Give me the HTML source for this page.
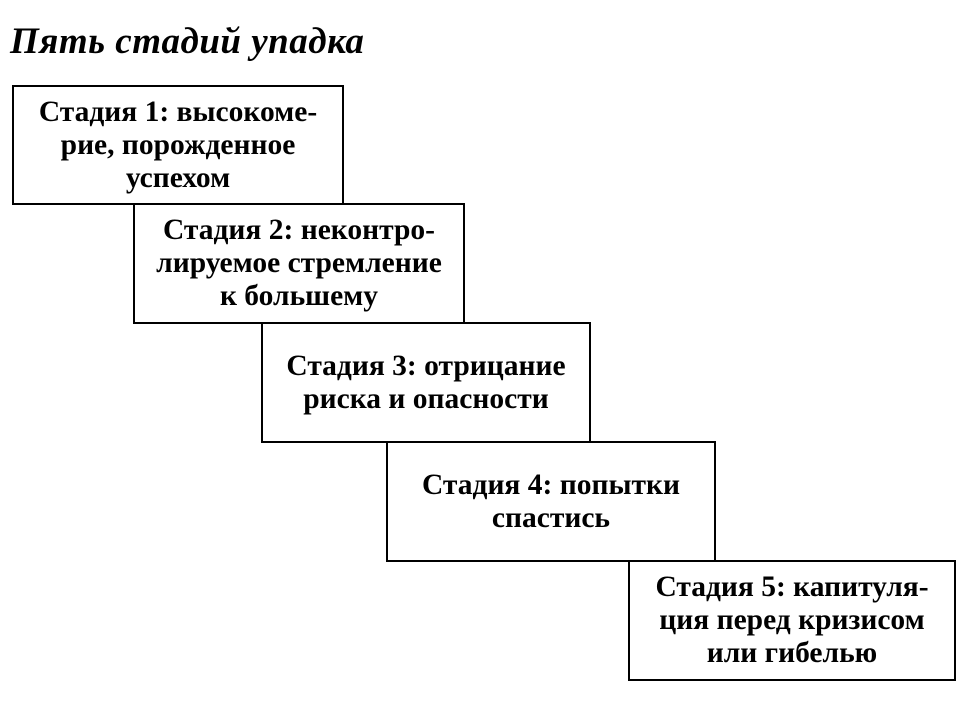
<!DOCTYPE html>
<html><head><meta charset="utf-8"><style>
body{margin:0;background:#fff;width:964px;height:714px;position:relative;overflow:hidden;font-family:"Liberation Serif","DejaVu Serif",serif;color:#000}
.t{position:absolute;left:10px;top:20px;font-size:37px;font-style:italic;font-weight:bold;letter-spacing:0.5px}
.b{position:absolute;border:2px solid #000;box-sizing:border-box;background:#fff;display:flex;align-items:center;justify-content:center;text-align:center;font-size:29.5px;font-weight:bold;line-height:33px;white-space:nowrap}
</style></head><body>
<div class="t">Пять стадий упадка</div>
<div class="b" style="left:12px;top:85px;width:332px;height:120px">Стадия 1: высокоме-<br>рие, порожденное<br>успехом</div>
<div class="b" style="left:133px;top:203px;width:332px;height:121px">Стадия 2: неконтро-<br>лируемое стремление<br>к большему</div>
<div class="b" style="left:261px;top:322px;width:330px;height:121px">Стадия 3: отрицание<br>риска и опасности</div>
<div class="b" style="left:386px;top:441px;width:330px;height:121px">Стадия 4: попытки<br>спастись</div>
<div class="b" style="left:628px;top:560px;width:328px;height:121px">Стадия 5: капитуля-<br>ция перед кризисом<br>или гибелью</div>
</body></html>
